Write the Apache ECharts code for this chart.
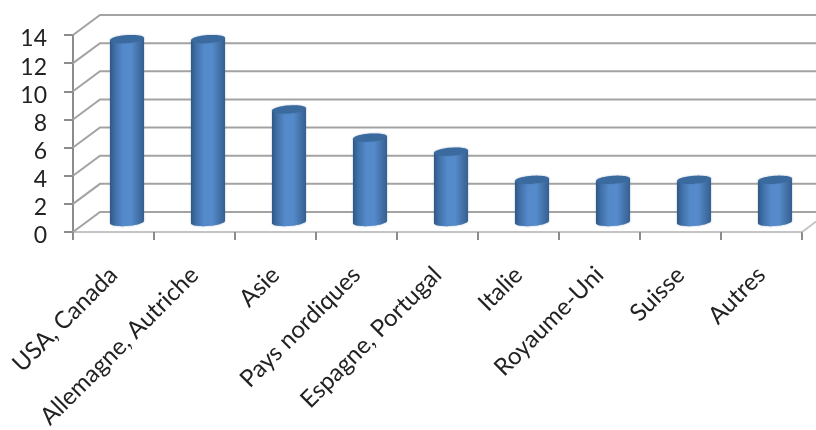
<!DOCTYPE html>
<html><head><meta charset="utf-8">
<script src="https://cdn.jsdelivr.net/npm/echarts@6/dist/echarts.min.js"></script>
<style>html,body{margin:0;padding:0;background:#fff}#c{width:816px;height:430px}</style>
</head><body><div id="c"></div>
<script>
const categories = ["USA, Canada","Allemagne, Autriche","Asie","Pays nordiques","Espagne, Portugal","Italie","Royaume-Uni","Suisse","Autres"];
const values = [13,13,8,6,5,3,3,3,3];
const gridLevels = [0,2,4,6,8,10,12,14];
const DEPTH_X = 27, DEPTH_Y = -20, RX = 17, RY = 4, TILT = 0.07, GRID_COL = '#a3a3a3';

function ellipsePts(cx, cy, from, to, n){
  const pts = [];
  for(let i=0;i<=n;i++){
    const t = from + (to-from)*i/n;
    const ex = RX*Math.cos(t), ey = RY*Math.sin(t);
    pts.push([cx+ex, cy+ey - ex*TILT]);
  }
  return pts;
}
const bodyFill = {type:'linear',x:0,y:0,x2:1,y2:0,colorStops:[
  {offset:0,color:'#2f5785'},{offset:0.14,color:'#3f6fa6'},{offset:0.38,color:'#5489ca'},
  {offset:0.62,color:'#558bcb'},{offset:0.86,color:'#416fa5'},{offset:1,color:'#365f90'}]};

const chart = echarts.init(document.getElementById('c'),null,{renderer:'canvas'});
chart.setOption({
  animation:false,
  grid:{left:73,top:35,width:729,height:197,containLabel:false,outerBoundsMode:'none'},
  xAxis:{type:'category',data:categories,
    axisLine:{lineStyle:{color:'#c4c4c4',width:2}},
    axisTick:{show:true,length:8,lineStyle:{color:'#8c8c8c',width:2}},
    axisLabel:{rotate:45,interval:0,margin:39,fontFamily:'Lato',fontSize:24,color:'#222'}},
  yAxis:{type:'value',min:0,max:14,interval:2,
    splitLine:{show:false},
    axisLine:{show:true,lineStyle:{color:'#8c8c8c',width:2}},
    axisTick:{show:true,length:9,lineStyle:{color:'#8c8c8c',width:2}},
    axisLabel:{margin:26,verticalAlign:'top',lineHeight:8,fontFamily:'Lato',fontSize:23,color:'#222'}},
  series:[
    {type:'custom',clip:false,silent:true,z:1,data:gridLevels.map(v=>[0,v]),
     encode:{x:0,y:1},
     renderItem(p,api){
       const a = api.coord([0,api.value(1)]);
       const left = p.coordSys.x, right = p.coordSys.x+p.coordSys.width;
       const y = a[1];
       return {type:'polyline',shape:{points:[[left,y],[left+DEPTH_X,y+DEPTH_Y],[right+DEPTH_X,y+DEPTH_Y]]},
         style:{stroke:GRID_COL,lineWidth:2,fill:null}};
     }},
    {type:'custom',clip:false,silent:true,z:1,data:[0],
     renderItem(p,api){
       const right = p.coordSys.x+p.coordSys.width, y = p.coordSys.y+p.coordSys.height;
       return {type:'line',shape:{x1:right,y1:y,x2:right+DEPTH_X,y2:y+DEPTH_Y},style:{stroke:'#c4c4c4',lineWidth:2}};
     }},
    {type:'custom',clip:false,silent:true,z:3,
     data:values.map((v,i)=>[i,v]),encode:{x:0,y:1},
     renderItem(p,api){
       const top = api.coord([api.value(0),api.value(1)]);
       const base = api.coord([api.value(0),0]);
       const cx = top[0]+DEPTH_X/2, ty = top[1]+DEPTH_Y/2, by = base[1]+DEPTH_Y/2;
       const bottomArc = ellipsePts(cx,by,0,Math.PI,28);
       const body = [[cx+RX,ty-RX*TILT]].concat(bottomArc,[[cx-RX,ty+RX*TILT]]);
       return {type:'group',children:[
         {type:'polygon',shape:{points:body},style:{fill:bodyFill,shadowBlur:2,shadowColor:'rgba(60,100,150,0.5)'}},
         {type:'polygon',shape:{points:ellipsePts(cx,ty,0,Math.PI*2,48)},style:{fill:'#3b6a9f',shadowBlur:2,shadowColor:'rgba(60,100,150,0.5)'}}
       ]};
     }}
  ]
});
</script></body></html>
